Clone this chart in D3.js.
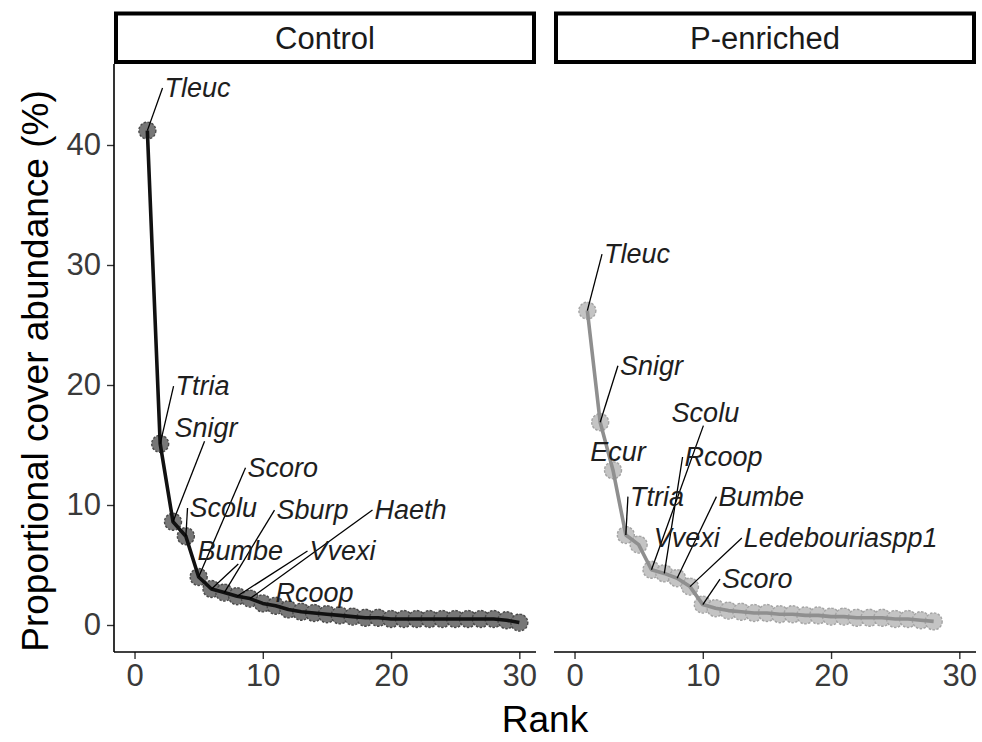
<!DOCTYPE html>
<html>
<head>
<meta charset="utf-8">
<script src="https://cdn.jsdelivr.net/npm/d3@7"></script>
<style>
  body { margin: 0; background: #fff; }
  svg { display: block; font-family: "Liberation Sans", Arial, sans-serif; }
  .tick text { fill: #3a3a3a; font-size: 31px; }
  .tick line { stroke: #333; stroke-width: 1.4; }
  .lab { font-style: italic; font-size: 27px; fill: #1e1e1e; }
</style>
</head>
<body>
<svg id="chart" width="982" height="742"></svg>
<script>
// cover values by rank (rank = index + 1)
const controlCover = [41.2, 15.1, 8.6, 7.4, 4.0, 3.0, 2.7, 2.4, 2.2, 1.8,
  1.6, 1.3, 1.1, 1.0, 0.9, 0.8, 0.7, 0.6, 0.6, 0.5,
  0.5, 0.5, 0.5, 0.5, 0.5, 0.5, 0.5, 0.5, 0.4, 0.2];
const pCover = [26.2, 16.9, 12.9, 7.5, 6.7, 4.6, 4.3, 3.9, 3.2, 1.7,
  1.4, 1.2, 1.1, 1.0, 1.0, 0.9, 0.9, 0.8, 0.8, 0.7,
  0.7, 0.6, 0.6, 0.6, 0.5, 0.5, 0.4, 0.3];

// species names for the top ten ranks
const controlSpecies = ["Tleuc", "Ttria", "Snigr", "Scolu", "Scoro", "Bumbe", "Sburp", "Vvexi", "Haeth", "Rcoop"];
const pSpecies = ["Tleuc", "Snigr", "Ecur", "Ttria", "Vvexi", "Scolu", "Rcoop", "Bumbe", "Ledebouriaspp1", "Scoro"];

const facetNames = ["Control", "P-enriched"];
const xTicks = [0, 10, 20, 30];
const yTicks = [0, 10, 20, 30, 40];

// where the repelled labels ended up, in data units (rank, cover)
const controlLabelAt = [[2.34, 44.75], [3.2, 19.9], [3.12, 16.4], [4.29, 9.75], [8.81, 13.1],
  [4.91, 6.17], [11.07, 9.58], [13.64, 6.17], [18.71, 9.58], [10.99, 2.67]];
const pLabelAt = [[2.3, 30.9], [3.54, 21.6], [1.22, 14.4], [4.32, 10.7], [6.18, 7.25],
  [7.57, 17.7], [8.58, 14.0], [11.22, 10.7], [13.2, 7.25], [11.5, 3.83]];

const svg = d3.select("#chart");

const panelTop = 64, panelBottom = 652;
const y = d3.scaleLinear().domain([-2.25, 46.75]).range([panelBottom, panelTop]);

function drawPanel(x0, x1, name, values, species, labelAt, style) {
    let x = d3.scaleLinear().domain([-1.6, 31.3]).range([x0, x1]);
    let g = svg.append("g");

    // strip
    g.append("rect")
        .attr("x", x0 + 2).attr("y", 13.5)
        .attr("width", x1 - x0 - 4).attr("height", 48.5)
        .attr("fill", "#fff").attr("stroke", "#000").attr("stroke-width", 4);
    g.append("text")
        .attr("x", (x0 + x1) / 2).attr("y", 38)
        .attr("text-anchor", "middle").attr("dominant-baseline", "central")
        .attr("font-size", 31).attr("fill", "#1a1a1a")
        .text(name);

    // x axis
    let ax = g.append("g")
        .attr("transform", `translate(0,${panelBottom})`)
        .call(d3.axisBottom(x).tickValues(xTicks).tickSize(7).tickPadding(5));
    ax.select(".domain").remove();
    g.append("line")
        .attr("x1", x0).attr("x2", x1).attr("y1", panelBottom).attr("y2", panelBottom)
        .attr("stroke", "#000").attr("stroke-width", 1.6);

    let pts = values.map((v, i) => ({ rank: i + 1, v: v }));

    g.selectAll("circle.pt").data(pts).join("circle")
        .attr("class", "pt")
        .attr("cx", d => x(d.rank)).attr("cy", d => y(d.v))
        .attr("r", 8.5)
        .attr("fill", style.fill).attr("stroke", style.edge).attr("stroke-width", 1.4)
        .attr("stroke-dasharray", "2.5,1.5");

    g.append("path")
        .datum(pts)
        .attr("fill", "none").attr("stroke", style.line).attr("stroke-width", 3.6)
        .attr("stroke-linejoin", "round")
        .attr("d", d3.line().x(d => x(d.rank)).y(d => y(d.v)));

    // labels + segments to the nearest edge midpoint
    let segs = g.append("g");
    species.forEach((s, i) => {
        let t = g.append("text")
            .attr("class", "lab")
            .attr("x", x(labelAt[i][0])).attr("y", y(labelAt[i][1]))
            .attr("dominant-baseline", "central")
            .text(s);
        let b = t.node().getBBox();
        let px = x(pts[i].rank), py = y(pts[i].v);
        let mids = [[b.x, b.y + b.height / 2], [b.x + b.width, b.y + b.height / 2],
                    [b.x + b.width / 2, b.y + 2], [b.x + b.width / 2, b.y + b.height - 2]];
        let best = mids[0], bd = Infinity;
        mids.forEach(m => {
            let d = Math.hypot(m[0] - px, m[1] - py);
            if (d < bd) { bd = d; best = m; }
        });
        if (bd > 22) {
            segs.append("line")
                .attr("x1", px).attr("y1", py)
                .attr("x2", best[0] - 2).attr("y2", best[1])
                .attr("stroke", "#000").attr("stroke-width", 1.3);
        }
    });
    return g;
}

drawPanel(114, 536, facetNames[0], controlCover, controlSpecies, controlLabelAt,
    { fill: "#777", edge: "#4a4a4a", line: "#111" });
drawPanel(554, 976, facetNames[1], pCover, pSpecies, pLabelAt,
    { fill: "#c4c4c4", edge: "#a4a4a4", line: "#8f8f8f" });

// y axis (left panel only)
let ay = svg.append("g")
    .attr("transform", "translate(114,0)")
    .call(d3.axisLeft(y).tickValues(yTicks).tickSize(7).tickPadding(6));
ay.select(".domain").remove();
svg.append("line")
    .attr("x1", 114).attr("x2", 114).attr("y1", panelTop).attr("y2", panelBottom)
    .attr("stroke", "#000").attr("stroke-width", 1.6);

// axis titles
svg.append("text")
    .attr("x", 545).attr("y", 732)
    .attr("text-anchor", "middle").attr("font-size", 37).attr("fill", "#000")
    .text("Rank");
svg.append("text")
    .attr("transform", "translate(35,371) rotate(-90)")
    .attr("text-anchor", "middle").attr("dominant-baseline", "central")
    .attr("font-size", 37).attr("fill", "#000")
    .text("Proportional cover abundance (%)");
</script>
</body>
</html>
